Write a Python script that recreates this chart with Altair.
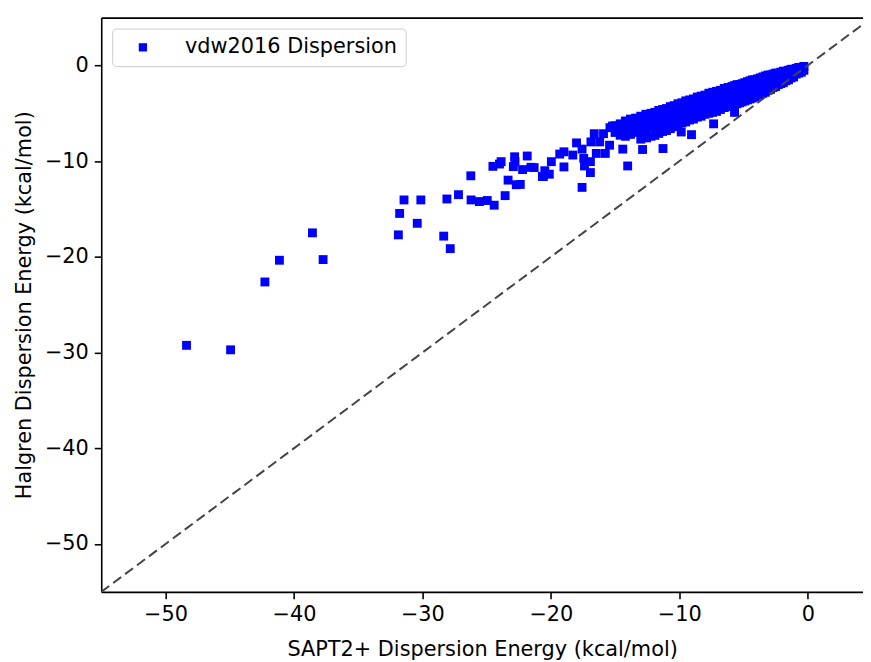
import altair as alt
import pandas as pd

series_name = "vdw2016 Dispersion"

# scattered points (SAPT2+ x, Halgren y)
sapt_sparse = [-48.36, -44.93, -42.26, -41.13, -37.73, -38.56,
               -26.23, -31.43, -30.12, -28.09, -27.19, -26.21, -25.56, -24.95, -24.41, -23.56,
               -31.77, -30.40, -31.87, -28.34, -27.83, -24.51, -23.87, -24.0, -22.82, -21.84,
               -22.79, -22.92, -22.2, -21.55, -23.33, -22.69, -22.38, -20.66,
               -21.3, -20.58, -20.12, -20.47, -19.96, -18.98, -19.31, -18.98, -18.29, -18.0,
               -17.57, -17.44, -17.38, -16.92, -16.92, -17.57, -16.88, -16.62, -16.46, -16.2,
               -15.76, -15.9, -15.43, -15.2, -14.4, -14.02, -14.35, -14.6, -12.86, -12.55,
               -11.27, -9.05, -9.85, -7.33]
halgren_sparse = [-29.24, -29.71, -22.62, -20.35, -20.28, -17.49,
                  -11.53, -14.05, -14.05, -13.95, -13.5, -14.05, -14.22, -14.11, -14.6, -13.6,
                  -15.46, -16.49, -17.7, -17.83, -19.14, -10.54, -10.05, -10.3, -9.54, -9.46,
                  -10.05, -10.57, -10.88, -10.64, -11.98, -12.46, -12.43, -11.6,
                  -10.67, -11.6, -11.36, -11.0, -10.05, -10.6, -9.26, -9.02, -9.36, -8.09,
                  -8.74, -9.71, -10.5, -10.05, -11.19, -12.74, -7.99, -7.13, -9.19, -7.99,
                  -9.19, -7.13, -8.33, -6.33, -8.74, -10.5, -6.26, -7.29, -8.78, -7.57,
                  -8.68, -7.23, -6.95, -6.1]

# dense band near the origin: one SAPT2+ value per column, several Halgren values each
band_columns = [
    (-0.3, [-0.1, -0.5]),
    (-0.5, [-0.2, -0.7]),
    (-0.7, [-0.2, -0.8]),
    (-0.9, [-0.3, -0.9]),
    (-1.1, [-0.4, -0.9, -1.2]),
    (-1.3, [-0.4, -1.0, -1.3]),
    (-1.5, [-0.5, -1.0, -1.5]),
    (-1.7, [-0.6, -1.1, -1.6]),
    (-1.9, [-0.6, -1.2, -1.8]),
    (-2.1, [-0.7, -1.3, -1.9]),
    (-2.3, [-0.8, -1.4, -2.0]),
    (-2.5, [-0.8, -1.5, -2.2]),
    (-2.7, [-0.9, -1.6, -2.3]),
    (-2.9, [-1.0, -1.7, -2.5]),
    (-3.1, [-1.0, -1.8, -2.6]),
    (-3.3, [-1.1, -1.8, -2.5, -2.8]),
    (-3.5, [-1.2, -1.9, -2.6, -2.9]),
    (-3.7, [-1.3, -2.0, -2.7, -3.0]),
    (-3.9, [-1.4, -2.1, -2.8, -3.1]),
    (-4.1, [-1.5, -2.2, -2.9, -3.3]),
    (-4.3, [-1.5, -2.2, -2.9, -3.4]),
    (-4.5, [-1.6, -2.3, -3.0, -3.5]),
    (-4.7, [-1.7, -2.4, -3.1, -3.6]),
    (-4.9, [-1.8, -2.5, -3.2, -3.7]),
    (-5.1, [-1.9, -2.6, -3.3, -3.8]),
    (-5.3, [-2.0, -2.7, -3.4, -3.9]),
    (-5.5, [-2.0, -2.7, -3.4, -4.0]),
    (-5.7, [-2.1, -2.8, -3.5, -4.1, -4.9]),
    (-5.9, [-2.2, -2.9, -3.6, -4.2]),
    (-6.2, [-2.3, -3.0, -3.7, -4.3]),
    (-6.5, [-2.4, -3.1, -3.8, -4.4]),
    (-6.8, [-2.6, -3.3, -4.0, -4.6]),
    (-7.1, [-2.7, -3.4, -4.1, -4.8]),
    (-7.4, [-2.8, -3.5, -4.2, -4.9]),
    (-7.7, [-2.9, -3.6, -4.3, -5.0]),
    (-8.0, [-3.1, -3.8, -4.5, -5.1]),
    (-8.3, [-3.2, -3.9, -4.6, -5.3]),
    (-8.6, [-3.3, -4.0, -4.7, -5.4]),
    (-8.9, [-3.5, -4.2, -4.9, -5.6]),
    (-9.2, [-3.6, -4.3, -5.0, -5.7]),
    (-9.5, [-3.7, -4.4, -5.1, -5.9]),
    (-9.8, [-3.9, -4.6, -5.3, -6.0]),
    (-10.1, [-4.0, -4.7, -5.4, -6.2]),
    (-10.4, [-4.2, -4.9, -5.6, -6.4]),
    (-10.7, [-4.3, -5.0, -5.7, -6.6]),
    (-11.0, [-4.5, -5.2, -5.9, -6.8]),
    (-11.3, [-4.6, -5.3, -6.0, -6.9]),
    (-11.6, [-4.7, -5.4, -6.1, -7.1]),
    (-11.9, [-4.9, -5.6, -6.3, -7.3]),
    (-12.2, [-5.0, -5.7, -6.4, -7.4]),
    (-12.6, [-5.1, -5.8, -6.6, -7.5]),
    (-13.0, [-5.3, -6.0, -6.8, -7.7]),
    (-13.4, [-5.5, -6.2, -7.0]),
    (-13.8, [-5.6, -6.4, -7.2]),
    (-14.2, [-5.8, -6.6, -7.4]),
    (-14.6, [-6.1, -6.8]),
    (-15.0, [-6.3, -7.0]),
    (-15.4, [-6.5]),
]

diag_vals = [-55, 5]
x_ticks = [-50, -40, -30, -20, -10, 0]
y_ticks = [0, -10, -20, -30, -40, -50]

sapt_band = [cx for cx, ys in band_columns for _ in ys]
halgren_band = [y for _, ys in band_columns for y in ys]

df = pd.DataFrame({
    "sapt": sapt_sparse + sapt_band,
    "halgren": halgren_sparse + halgren_band,
    "series": series_name,
})
diag_df = pd.DataFrame({"sapt": diag_vals, "halgren": diag_vals})

FONT = "DejaVu Sans"
xscale = alt.Scale(domain=[-55, 4.3], nice=False, zero=False)
yscale = alt.Scale(domain=[-55, 5], nice=False, zero=False)

common_axis = dict(
    grid=False, tickSize=7, tickWidth=1.6, tickColor="black",
    domainColor="black", domainWidth=1.6,
    labelFont=FONT, labelFontSize=21, labelColor="black",
    titleFont=FONT, titleFontSize=21, titleFontWeight="normal", titleColor="black",
)

x_axis = alt.Axis(values=x_ticks, title="SAPT2+ Dispersion Energy (kcal/mol)",
                  labelPadding=5, titlePadding=14, **common_axis)
y_axis = alt.Axis(values=y_ticks, title="Halgren Dispersion Energy (kcal/mol)",
                  labelPadding=6, titlePadding=10, **common_axis)

points = alt.Chart(df).mark_point(shape="square", filled=True, size=80, opacity=1).encode(
    x=alt.X("sapt:Q", scale=xscale, axis=x_axis),
    y=alt.Y("halgren:Q", scale=yscale, axis=y_axis),
    color=alt.Color("series:N", scale=alt.Scale(range=["#0000ff"]),
                    legend=alt.Legend(title=None, orient="none", legendX=11, legendY=11,
                                      symbolType="square", symbolSize=70, symbolStrokeWidth=0,
                                      labelFont=FONT, labelFontSize=21, labelColor="black",
                                      labelLimit=500,
                                      padding=8.5, labelOffset=32, symbolOffset=12,
                                      fillColor="rgba(255,255,255,0.8)", strokeColor="#cccccc",
                                      cornerRadius=4)),
)

line = alt.Chart(diag_df).mark_line(clip=True, color="#444444", strokeDash=[10, 5], strokeWidth=2).encode(
    x=alt.X("sapt:Q", scale=xscale,
            axis=alt.Axis(orient="top", labels=False, ticks=False, grid=False, title=None,
                          domainColor="black", domainWidth=1.6)),
    y=alt.Y("halgren:Q", scale=yscale, axis=y_axis),
)

chart = alt.layer(points, line).resolve_axis(x="independent").properties(
    width=768, height=579,
    padding={"left": 5, "top": 7, "right": 0, "bottom": 0},
).configure_view(strokeWidth=0).configure(background="white")

chart.save("out.html", embed_options={"renderer": "svg", "actions": False})
